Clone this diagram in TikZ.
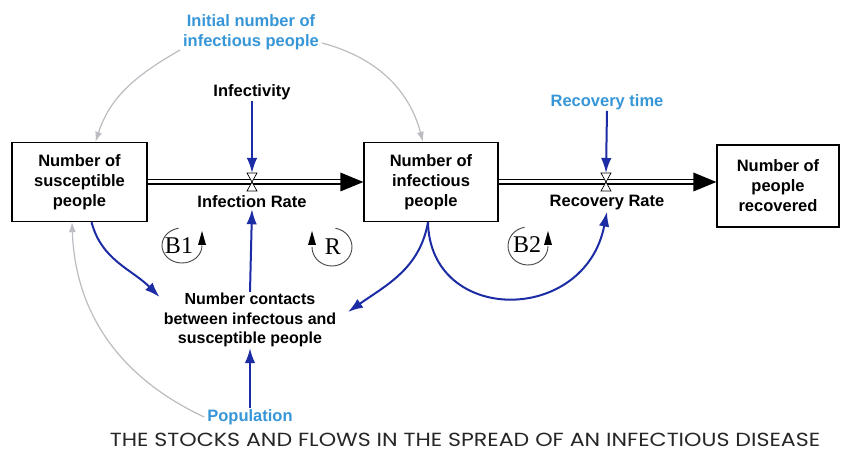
\documentclass[tikz,border=0pt]{standalone}
\usepackage{fontspec}
\setmainfont{Liberation Sans}
\newfontfamily\loopfont{Liberation Serif}
\newfontfamily\capfont{Poppins}
\usetikzlibrary{arrows.meta}
\definecolor{linkblue}{RGB}{28,44,165}
\definecolor{paramblue}{RGB}{55,150,215}
\definecolor{linkgray}{RGB}{188,188,194}
\definecolor{loopgray}{RGB}{70,70,70}
\tikzset{
  lbl/.style={font=\bfseries\fontsize{16.5}{20}\selectfont, align=center, inner sep=1pt},
  stock/.style={lbl, draw, line width=1.3pt, inner sep=0pt},
  param/.style={lbl, text=paramblue},
  link/.style={draw=linkblue, line width=2pt, -{Latex[length=15pt,width=10.5pt]}},
  glink/.style={draw=linkgray, line width=1.2pt, -{Latex[length=10pt,width=7pt]}},
  pipeouter/.style={line width=6pt, black},
  pipeinner/.style={line width=3pt, white},
  valveshape/.style={draw, line width=0.7pt, fill=white},
  looparc/.style={draw=loopgray, line width=0.9pt},
  looplbl/.style={font=\loopfont\fontsize{24}{24}\selectfont, inner sep=0pt},
}
\begin{document}
\begin{tikzpicture}[x=1pt,y=1pt]
\useasboundingbox (0,0) rectangle (841,452);
\fill[white] (0,0) rectangle (841,452);

% stocks
\node[stock, minimum width=135pt, minimum height=79pt] (sus) at (79.5,270) {Number of\\susceptible\\people};
\node[stock, minimum width=134pt, minimum height=79pt] (inf) at (431,270) {Number of\\infectious\\people};
\node[stock, minimum width=122pt, minimum height=82pt] (rec) at (778,266) {Number of\\people\\recovered};

% flow valves
\coordinate (v1) at (252,270);
\coordinate (v2) at (606,270);

% pipes
\draw[pipeouter] (sus.east) -- ([xshift=-20pt]inf.west);
\draw[pipeinner] (sus.east) -- ([xshift=-20pt]inf.west);
\fill ([xshift=-23pt,yshift=9.5pt]inf.west) -- (inf.west) -- ([xshift=-23pt,yshift=-9.5pt]inf.west) -- cycle;
\coordinate (r2) at (inf.east -| rec.west);
\draw[pipeouter] (inf.east) -- ([xshift=-20pt]r2);
\draw[pipeinner] (inf.east) -- ([xshift=-20pt]r2);
\fill ([xshift=-23pt,yshift=9.5pt]r2) -- (r2) -- ([xshift=-23pt,yshift=-9.5pt]r2) -- cycle;

\foreach \v in {v1,v2}{
  \draw[valveshape] ([xshift=-5pt,yshift=9pt]\v) -- ([xshift=5pt,yshift=9pt]\v) -- (\v) -- cycle;
  \draw[valveshape] ([xshift=-5pt,yshift=-9pt]\v) -- ([xshift=5pt,yshift=-9pt]\v) -- (\v) -- cycle;
}

% rate and auxiliary labels
\node[lbl] (irate) at (252,250) {Infection Rate};
\node[lbl] (rrate) at (607,249) {Recovery Rate};
\node[lbl] (infy) at (252,360) {Infectivity};
\node[param] (rtime) at (607,350) {Recovery time};
\node[param] (init) at (251,420) {Initial number of\\infectious people};
\node[lbl, font=\bfseries\fontsize{16}{19.5}\selectfont] (cont) at (250,132) {Number contacts\\between infectous and\\susceptible people};
\node[param] (pop) at (250,35) {Population};

% blue causal links
\draw[link] (infy.south) -- ([yshift=9pt]v1);
\draw[link] (rtime.south) -- ([yshift=9pt]v2);
\draw[link] (cont.north) -- (irate.south);
\draw[link] (pop.north) -- (cont.south);
\draw[link] ([xshift=12pt]sus.south) to[out=-75,in=135] ([xshift=-3pt]cont.west |- 0,155);
\coordinate (cr) at (348,140);
\draw[link] ([xshift=-3pt]inf.south) to[out=-100,in=35] (cr);
\draw[link] ([xshift=-3pt]inf.south) .. controls (430,127) and (585,127) .. (rrate.south);

% grey initial-value links
\draw[glink] ([xshift=-2pt]init.west |- 0,402) to[out=210,in=72] ([xshift=16pt]sus.north);
\draw[glink] ([xshift=2pt]init.east |- 0,409) to[out=-15,in=105] ([xshift=-8pt]inf.north);
\draw[glink] ([xshift=-2pt]pop.west) to[out=155,in=-88] ([xshift=-7.5pt]sus.south);

% loop markers
\node[looplbl] (b1) at (179,206) {B1};
\draw[looparc] (182,206.5) ++(100:20pt and 17.5pt) arc[start angle=100, end angle=360, x radius=20pt, y radius=17.5pt];
\fill (202,221) -- (198,207) -- (206,207) -- cycle;

\node[looplbl] (lr) at (333,205) {R};
\draw[looparc] (332,205) ++(80:20pt and 19pt) arc[start angle=80, end angle=-180, x radius=20pt, y radius=19pt];
\fill (312,221) -- (308,207) -- (316,207) -- cycle;

\node[looplbl] (b2) at (527,207) {B2};
\draw[looparc] (528,206) ++(100:20pt and 19pt) arc[start angle=100, end angle=360, x radius=20pt, y radius=19pt];
\fill (548,221) -- (544,207) -- (552,207) -- cycle;

% caption
\node[font=\capfont\fontsize{19}{19}\selectfont, text=black!85, xscale=1.165, transform shape] (cap) at (465,12) {THE STOCKS AND FLOWS IN THE SPREAD OF AN INFECTIOUS DISEASE};
\end{tikzpicture}
\end{document}
